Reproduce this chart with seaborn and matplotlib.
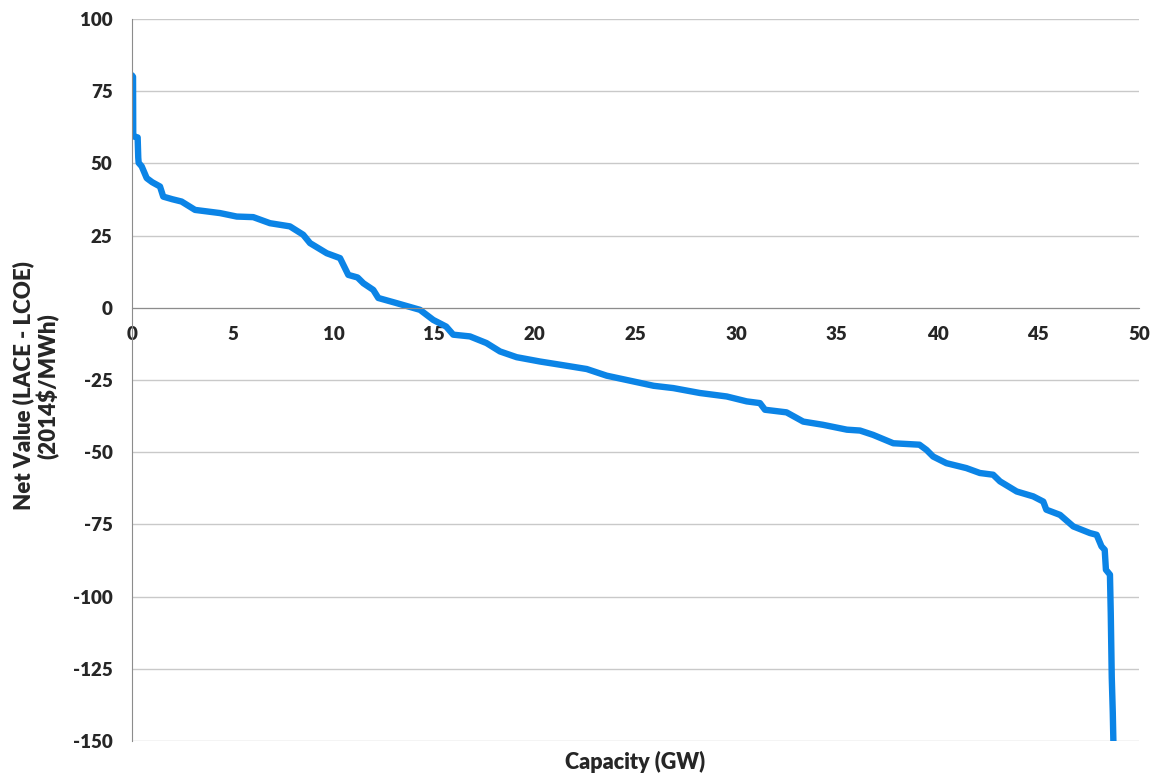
import numpy as np
import pandas as pd
import matplotlib
matplotlib.use("Agg")
import matplotlib.pyplot as plt
import seaborn as sns

# --- DATA ---
capacity_gw = [0.0, 0.05, 0.06, 0.1, 0.28, 0.31, 0.33, 0.48, 0.73, 1.0, 1.39, 1.55, 2.0, 2.46,
               3.13, 4.37, 5.2, 6.02, 6.85, 7.84, 8.5, 8.84, 9.67, 10.33, 10.74, 11.2, 11.49,
               11.98, 12.23, 13.15, 14.3, 14.96, 15.6, 15.95, 16.78, 17.6, 18.27, 19.1, 20.26,
               21.25, 22.58, 23.57, 24.9, 25.9, 26.88, 28.2, 29.53, 30.52, 31.18, 31.43, 32.5,
               33.33, 34.3, 35.5, 36.15, 36.8, 37.8, 39.1, 39.45, 39.78, 40.44, 41.43, 42.1,
               42.76, 43.1, 43.93, 44.75, 45.25, 45.4, 46.08, 46.74, 47.57, 47.9, 48.14, 48.3,
               48.36, 48.56, 48.6, 48.65, 48.7, 48.73]
net_value = [80.5, 80.0, 60.0, 59.3, 59.0, 52.0, 50.2, 49.0, 44.9, 43.5, 42.0, 38.5, 37.6, 36.8,
             33.9, 32.8, 31.6, 31.4, 29.3, 28.2, 25.3, 22.4, 18.9, 17.2, 11.4, 10.5, 8.5,
             6.2, 3.4, 1.6, -0.7, -4.2, -6.5, -9.3, -9.9, -12.2, -15.1, -17.1, -18.6,
             -19.7, -21.2, -23.5, -25.5, -27.0, -27.8, -29.5, -30.7, -32.4, -33.0, -35.3, -36.2,
             -39.4, -40.5, -42.2, -42.5, -44.0, -46.9, -47.4, -49.2, -51.5, -53.8, -55.5, -57.2,
             -57.8, -60.1, -63.6, -65.3, -67.1, -69.9, -71.7, -75.7, -78.0, -78.6, -82.6, -83.8,
             -90.7, -92.4, -105.7, -128.0, -140.0, -150.0]
y_ticks = [100, 75, 50, 25, 0, -25, -50, -75, -100, -125, -150]
x_ticks = [0, 5, 10, 15, 20, 25, 30, 35, 40, 45, 50]

df = pd.DataFrame({"Capacity": capacity_gw, "NetValue": net_value})

# --- STYLE ---
sns.set_style("white")
plt.rcParams['font.family'] = ['Lato', 'DejaVu Sans']

fig = plt.figure(figsize=(11.59, 7.76), dpi=100)
ax = fig.add_axes([0.1139, 0.0451, 0.8688, 0.9304])

sns.lineplot(data=df, x="Capacity", y="NetValue", ax=ax, color="#0B84E6",
             linewidth=4.6, sort=False, estimator=None)

# x axis sits on y=0 (do this before styling ticks, it resets them)
for s in ["top", "right"]:
    ax.spines[s].set_visible(False)
ax.spines["bottom"].set_position(("data", 0))
ax.spines["bottom"].set_color("#8c8c8c")
ax.spines["left"].set_color("#8c8c8c")

ax.set_xlim(0, 50)
ax.set_ylim(-150, 100)
ax.set_xticks(x_ticks)
ax.set_yticks(y_ticks)
ax.set_xticklabels([str(t) for t in x_ticks], fontsize=13.5, fontweight='heavy')
ax.set_yticklabels([str(t) for t in y_ticks], fontsize=13.5, fontweight='heavy')

ax.yaxis.grid(True, color="#c9c9c9", linewidth=1)
ax.xaxis.grid(False)
ax.set_axisbelow(True)

ax.tick_params(axis="x", direction="out", length=5, color="#8c8c8c", pad=8)
ax.tick_params(axis="y", direction="out", length=5, color="#8c8c8c", pad=9)
ax.set_xlabel("")
ax.set_ylabel("")

fig.text(0.548, 0.018, "Capacity (GW)", ha="center", va="center",
         fontsize=15.5, fontweight="heavy")
fig.text(0.031, 0.503, "Net Value (LACE - LCOE)\n(2014$/MWh)", ha="center", va="center",
         rotation=90, fontsize=16, fontweight="heavy", multialignment="center",
         linespacing=1.1)

fig.savefig("out.png", dpi=100)
